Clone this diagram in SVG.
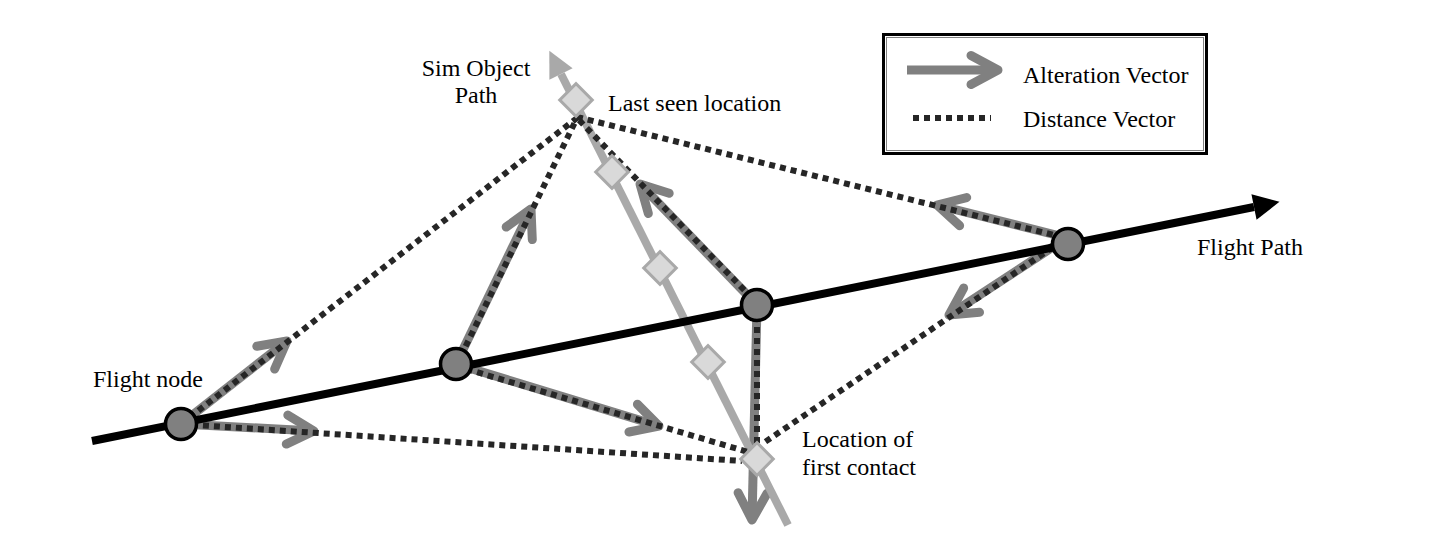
<svg xmlns="http://www.w3.org/2000/svg" width="1429" height="558" viewBox="0 0 1429 558">
  <style>
    .label { font-family: "Liberation Serif", "Times New Roman", serif; font-size: 24px; fill: #000; }
    .alter { stroke: #808080; stroke-width: 9; fill: none; marker-end: url(#chevron); }
    .dist { stroke: #262626; stroke-width: 6; stroke-dasharray: 6 5; fill: none; }
    .node { fill: #808080; stroke: #000; stroke-width: 3.5; }
    .stop { fill: #d9d9d9; stroke: #a9a9a9; stroke-width: 3; }
  </style>
  <defs>
    <!-- open chevron head for alteration vectors -->
    <marker id="chevron" markerUnits="userSpaceOnUse" orient="auto" refX="0" refY="0" markerWidth="60" markerHeight="60" overflow="visible">
      <path d="M-27,-14.5 L0,0 L-27,14.5" fill="none" stroke="#808080" stroke-width="9" stroke-linecap="round" stroke-linejoin="round"/>
    </marker>
    <!-- solid heads for the two paths -->
    <marker id="flightHead" markerUnits="userSpaceOnUse" orient="auto" refX="0" refY="0" markerWidth="60" markerHeight="60" overflow="visible">
      <path d="M0,-13 L26,0 L0,13 Z" fill="#000"/>
    </marker>
    <marker id="simHead" markerUnits="userSpaceOnUse" orient="auto" refX="0" refY="0" markerWidth="60" markerHeight="60" overflow="visible">
      <path d="M0,-13 L26,0 L0,13 Z" fill="#a9a9a9"/>
    </marker>
    <rect id="stopShape" x="-11.5" y="-11.5" width="23" height="23" transform="rotate(45)"/>
  </defs>

  <rect width="1429" height="558" fill="#fff"/>

  <!-- connectors -->
  <g id="connectors">
    <!-- alteration vectors -->
    <g id="alteration-vectors">
      <line class="alter" x1="181" y1="424" x2="287" y2="341"/>
      <line class="alter" x1="181" y1="424" x2="314" y2="431"/>
      <line class="alter" x1="456" y1="364" x2="531" y2="209"/>
      <line class="alter" x1="456" y1="364" x2="659" y2="426"/>
      <line class="alter" x1="757" y1="305" x2="640" y2="184"/>
      <line class="alter" x1="757" y1="305" x2="752" y2="520"/>
      <line class="alter" x1="1060" y1="236" x2="937" y2="205"/>
      <line class="alter" x1="1062" y1="241" x2="949" y2="315"/>
    </g>

    <!-- sim object path -->
    <line id="sim-path" x1="788" y1="525" x2="561" y2="74" stroke="#a9a9a9" stroke-width="8" marker-end="url(#simHead)"/>

    <!-- distance vectors -->
    <g id="distance-vectors">
      <line class="dist" x1="181" y1="424" x2="577" y2="118"/>
      <line class="dist" x1="181" y1="424" x2="742" y2="461"/>
      <line class="dist" x1="456" y1="366" x2="577" y2="118"/>
      <line class="dist" x1="456" y1="366" x2="748" y2="452"/>
      <line class="dist" x1="752" y1="298" x2="577" y2="118"/>
      <line class="dist" x1="757" y1="305" x2="757" y2="448"/>
      <line class="dist" x1="577" y1="117" x2="1062" y2="237"/>
      <line class="dist" x1="1062" y1="241" x2="762" y2="444"/>
    </g>

    <!-- flight path -->
    <line id="flight-path" x1="92" y1="441" x2="1254" y2="207" stroke="#000" stroke-width="8" marker-end="url(#flightHead)"/>
  </g>

  <!-- flight nodes -->
  <g id="flight-node-1"><circle class="node" cx="181" cy="424" r="15.5"/></g>
  <g id="flight-node-2"><circle class="node" cx="456" cy="364" r="15.5"/></g>
  <g id="flight-node-3"><circle class="node" cx="757" cy="305" r="15.5"/></g>
  <g id="flight-node-4"><circle class="node" cx="1068" cy="244" r="15.5"/></g>

  <!-- sim object positions -->
  <g id="last-seen"><use href="#stopShape" class="stop" transform="translate(576,100)"/></g>
  <g id="sim-pos-2"><use href="#stopShape" class="stop" transform="translate(612,172)"/></g>
  <g id="sim-pos-3"><use href="#stopShape" class="stop" transform="translate(660,268)"/></g>
  <g id="sim-pos-4"><use href="#stopShape" class="stop" transform="translate(708,362)"/></g>
  <g id="first-contact"><use href="#stopShape" class="stop" transform="translate(757,459)"/></g>

  <!-- labels -->
  <g id="labels">
    <text class="label" x="476" y="76" text-anchor="middle">Sim Object</text>
    <text class="label" x="476" y="103" text-anchor="middle">Path</text>
    <text class="label" x="608" y="111">Last seen location</text>
    <text class="label" x="93" y="387">Flight node</text>
    <text class="label" x="1197" y="255">Flight Path</text>
    <text class="label" x="802" y="447">Location of</text>
    <text class="label" x="802" y="475">first contact</text>
  </g>

  <!-- legend -->
  <g id="legend">
    <rect x="883.5" y="34.5" width="323" height="119" fill="#fff" stroke="#000" stroke-width="3"/>
    <rect x="886.5" y="37.5" width="317" height="113" fill="none" stroke="#808080" stroke-width="1"/>
    <line class="alter" x1="907" y1="70" x2="998" y2="70"/>
    <text class="label" x="1023" y="83">Alteration Vector</text>
    <line class="dist" x1="913" y1="118" x2="991" y2="118"/>
    <text class="label" x="1023" y="127">Distance Vector</text>
  </g>
</svg>
